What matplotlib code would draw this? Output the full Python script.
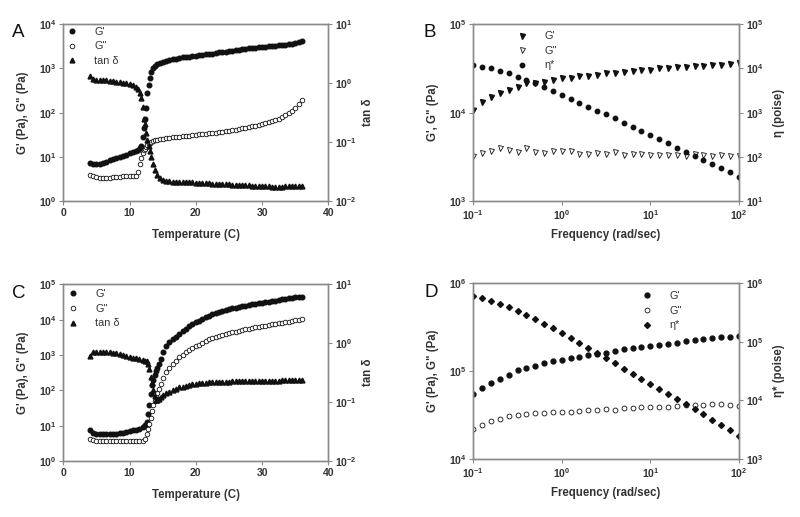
import matplotlib
matplotlib.use('Agg')
import matplotlib.pyplot as plt
from matplotlib.ticker import NullLocator

plt.rcParams['font.family'] = ['Liberation Sans', 'DejaVu Sans']
plt.rcParams['mathtext.fontset'] = 'custom'
plt.rcParams['mathtext.rm'] = 'Liberation Sans:bold'
plt.rcParams['mathtext.it'] = 'Liberation Sans:bold'

# ---- panel A : temperature sweep ----
temp_a = [4.0, 4.5, 5.0, 5.5, 6.0, 6.5, 7.0, 7.5, 8.0, 8.5, 9.0, 9.5, 10.0, 10.5,
          11.0, 11.3, 11.6, 11.8, 12.0, 12.2, 12.3, 12.5, 12.7, 12.9, 13.1, 13.3,
          13.6, 13.9, 14.2, 14.6, 15.0, 15.5, 16.0, 16.5, 17.0, 17.5, 18.0, 18.5,
          19.0, 19.5, 20.0, 20.5, 21.0, 21.5, 22.0, 22.5, 23.0, 23.5, 24.0, 24.5,
          25.0, 25.5, 26.0, 26.5, 27.0, 27.5, 28.0, 28.5, 29.0, 29.5, 30.0, 30.5,
          31.0, 31.5, 32.0, 32.5, 33.0, 33.5, 34.0, 34.5, 35.0, 35.5, 36.0]
gp_a = [7.4, 7.0, 6.8, 6.9, 7.3, 7.7, 8.3, 8.8, 9.4, 10.0, 10.6, 11.2, 12.0, 12.8,
        13.7, 14.5, 15.8, 18, 28, 45, 70, 130, 280, 420, 600, 850,
        1000, 1150, 1250, 1350, 1420, 1500, 1560, 1620, 1680, 1730, 1780, 1820,
        1860, 1900, 1940, 1990, 2030, 2080, 2130, 2180, 2240, 2300, 2370, 2420,
        2480, 2540, 2600, 2660, 2720, 2780, 2840, 2900, 2970, 3020, 3070, 3120,
        3170, 3220, 3280, 3330, 3380, 3440, 3520, 3640, 3800, 4000, 4250]
gpp_a = [3.9, 3.6, 3.5, 3.4, 3.4, 3.4, 3.4, 3.5, 3.5, 3.5, 3.6, 3.6, 3.6, 3.6,
         3.7, 4.5, 7.0, 9.5, 12, 14, 15, 16.5, 18.5, 20, 21, 22,
         23, 24, 24.5, 25, 25.5, 26, 26.5, 27.5, 28, 28.5, 29, 29.5,
         30, 31, 32, 32.5, 33, 33.5, 34, 35, 35.5, 36, 37, 38,
         39, 40, 41, 42, 44, 45, 47, 49, 51, 53, 55, 58,
         61, 64, 68, 73, 80, 88, 98, 110, 130, 155, 190]
tand_a = [1.3, 1.2, 1.15, 1.15, 1.13, 1.12, 1.1, 1.08, 1.06, 1.04, 1.02, 1.0, 0.97, 0.93,
          0.87, 0.8, 0.68, 0.55, 0.40, 0.25, 0.2, 0.14, 0.11, 0.085, 0.07, 0.055,
          0.042, 0.033, 0.028, 0.025, 0.023, 0.022, 0.0215, 0.0212, 0.021, 0.021, 0.0209, 0.0208,
          0.0207, 0.0207, 0.0206, 0.0204, 0.0202, 0.0201, 0.0199, 0.0198, 0.0197, 0.0196, 0.0195, 0.0193,
          0.0192, 0.019, 0.0189, 0.0187, 0.0186, 0.0185, 0.0184, 0.0183, 0.0182, 0.0181, 0.018, 0.0178,
          0.0177, 0.0175, 0.0175, 0.0176, 0.0176, 0.0177, 0.0178, 0.0178, 0.0179, 0.018, 0.018]

# ---- panel C : temperature sweep ----
temp_c = [4.0, 4.5, 5.0, 5.5, 6.0, 6.5, 7.0, 7.5, 8.0, 8.5, 9.0, 9.5, 10.0, 10.5,
          11.0, 11.5, 12.0, 12.3, 12.6, 12.8, 13.0, 13.2, 13.4, 13.6, 13.8, 14.0,
          14.2, 14.4, 14.7, 15.0, 15.5, 16.0, 16.5, 17.0, 17.5, 18.0, 18.5, 19.0,
          19.5, 20.0, 20.5, 21.0, 21.5, 22.0, 22.5, 23.0, 23.5, 24.0, 24.5, 25.0,
          25.5, 26.0, 26.5, 27.0, 27.5, 28.0, 28.5, 29.0, 29.5, 30.0, 30.5, 31.0,
          31.5, 32.0, 32.5, 33.0, 33.5, 34.0, 34.5, 35.0, 35.5, 36.0]
gp_c = [7.5, 6.3, 5.9, 5.8, 5.8, 5.8, 5.8, 5.9, 6.0, 6.2, 6.4, 6.7, 7.0, 7.3,
        7.7, 8.2, 9.2, 10.5, 13, 22, 38, 80, 140, 190, 270, 350,
        430, 560, 780, 1200, 1800, 2300, 2800, 3300, 4000, 4700, 5400, 6800,
        7600, 8400, 9300, 10300, 11600, 12800, 14000, 15200, 16400, 17600, 18800, 19800,
        20800, 21900, 23000, 24000, 25000, 26100, 27200, 28300, 29400, 30400, 31400, 32500,
        33600, 34600, 36500, 37800, 39000, 40000, 41200, 42500, 43800, 45000]
gpp_c = [4.1, 3.9, 3.8, 3.7, 3.7, 3.7, 3.7, 3.7, 3.7, 3.7, 3.7, 3.7, 3.7, 3.7,
         3.7, 3.7, 3.8, 4.3, 5.8, 8.0, 11.5, 17, 26, 38, 50, 68,
         85, 110, 150, 220, 320, 440, 560, 690, 860, 1020, 1200, 1400,
         1550, 1750, 1950, 2200, 2550, 2850, 3100, 3300, 3500, 3650, 3850, 4100,
         4350, 4600, 4850, 5100, 5350, 5600, 5850, 6050, 6300, 6550, 6800, 7050,
         7300, 7600, 7900, 8200, 8500, 8800, 9200, 9600, 10000, 10300]
tand_c = [0.60, 0.70, 0.71, 0.70, 0.70, 0.70, 0.70, 0.69, 0.68, 0.66, 0.64, 0.61, 0.59, 0.57,
          0.55, 0.53, 0.51, 0.50, 0.49, 0.44, 0.37, 0.27, 0.21, 0.16, 0.125, 0.11,
          0.107, 0.112, 0.12, 0.13, 0.14, 0.15, 0.16, 0.17, 0.178, 0.184, 0.19, 0.195,
          0.20, 0.205, 0.21, 0.212, 0.214, 0.216, 0.218, 0.219, 0.22, 0.221, 0.222, 0.223,
          0.224, 0.224, 0.225, 0.225, 0.226, 0.226, 0.227, 0.227, 0.228, 0.229, 0.229, 0.230,
          0.231, 0.232, 0.232, 0.233, 0.234, 0.234, 0.235, 0.236, 0.236, 0.237]

# ---- panels B and D : frequency sweeps ----
freq = [0.1, 0.126, 0.158, 0.2, 0.251, 0.316, 0.398, 0.501, 0.631, 0.794,
        1.0, 1.26, 1.58, 2.0, 2.51, 3.16, 3.98, 5.01, 6.31, 7.94,
        10.0, 12.6, 15.8, 20.0, 25.1, 31.6, 39.8, 50.1, 63.1, 79.4, 100.0]
gp_b = [10700, 13300, 14900, 16600, 18000, 19700, 21500, 21500, 22400, 23400,
        24500, 24900, 25800, 26200, 26700, 27900, 28400, 29100, 29600, 30200,
        30700, 31800, 32000, 32600, 33200, 33500, 34000, 34400, 34900, 35600, 36200]
gpp_b = [3230, 3460, 3710, 3950, 3780, 3620, 3950, 3620, 3520, 3680,
         3680, 3710, 3400, 3400, 3460, 3400, 3620, 3320, 3400, 3370,
         3320, 3320, 3320, 3320, 3260, 3370, 3290, 3230, 3290, 3260, 3260]
eta_b = [12000, 11000, 10000, 8800, 7800, 6500, 5500, 4780, 3740, 3150,
         2510, 2040, 1620, 1370, 1110, 920, 745, 593, 481, 385,
         311, 249, 202, 161, 131, 104, 85, 68, 55, 45, 35.5]
gp_d = [55000, 63800, 74000, 82000, 91200, 102000, 108600, 115400, 122700, 129400,
        135000, 141000, 146000, 151500, 156700, 162000, 171000, 177000, 182000, 188500,
        193400, 200000, 205500, 211000, 218800, 224600, 230500, 236600, 242900, 247000, 253500]
gpp_d = [21900, 24200, 27100, 28800, 30600, 31400, 32500, 33100, 33700, 34000,
         34300, 34300, 35200, 35800, 35800, 36600, 36100, 37800, 37800, 38700,
         38700, 39400, 39400, 40100, 40800, 41200, 40800, 41900, 42300, 41200, 40400]
eta_d = [614000, 553000, 499000, 443000, 394000, 340000, 288000, 243000, 204000, 170000,
         140000, 115000, 94400, 77600, 63800, 52500, 43100, 34900, 28600, 23500,
         19300, 15700, 12900, 10600, 8690, 7050, 5790, 4690, 3810, 3090, 2500]

ink = '#111111'
frame = '#8a8a8a'
txt = '#333333'


def style(ax):
    for s in ax.spines.values():
        s.set_color(frame)
        s.set_linewidth(1.0)
    ax.tick_params(which='both', direction='out', length=3, width=0.8,
                   color=frame, labelcolor=txt, labelsize=7.5, pad=2)
    for lab in ax.get_xticklabels() + ax.get_yticklabels():
        lab.set_fontweight('bold')


def setup(ax, ax2, xlabel, ylabel, y2label):
    ax.set_xlabel(xlabel, fontsize=8.3, fontweight='bold', color=txt)
    ax.set_ylabel(ylabel, fontsize=8.3, fontweight='bold', color=txt)
    ax2.set_ylabel(y2label, fontsize=8.3, fontweight='bold', color=txt, rotation=90)
    ax.xaxis.set_label_coords(0.5, -0.16)
    ax.yaxis.set_label_coords(-0.128, 0.5)
    ax2.yaxis.set_label_coords(1.128, 0.5)
    ax.yaxis.set_minor_locator(NullLocator())
    ax2.yaxis.set_minor_locator(NullLocator())
    ax.xaxis.set_minor_locator(NullLocator())
    style(ax)
    style(ax2)


def add_legend(ax2, handles, x, y):
    leg = ax2.legend(handles=handles, loc='upper left', bbox_to_anchor=(x, y),
                     frameon=False, fontsize=7.8, handlelength=1.0,
                     handletextpad=1.6, labelspacing=0.42, borderpad=0,
                     borderaxespad=0)
    for t in leg.get_texts():
        t.set_color(txt)


fig = plt.figure(figsize=(8, 5.17), dpi=100)

# A
ax = fig.add_axes([0.0791, 0.6112, 0.3313, 0.3418])
ax2 = ax.twinx()
h1, = ax.plot(temp_a, gp_a, ls='none', marker='o', ms=3.3, color=ink, label="G'")
h2, = ax.plot(temp_a, gpp_a, ls='none', marker='o', ms=3.3, mfc='white', mec=ink, mew=0.6, label='G"')
h3, = ax2.plot(temp_a, tand_a, ls='none', marker='^', ms=3.5, color=ink, label='tan δ')
ax.set_yscale('log')
ax2.set_yscale('log')
ax.set_xlim(0, 40)
ax.set_xticks([0, 10, 20, 30, 40])
ax.set_ylim(1, 1e4)
ax2.set_ylim(1e-2, 1e1)
setup(ax, ax2, 'Temperature (C)', 'G\' (Pa), G" (Pa)', 'tan δ')
add_legend(ax2, [h1, h2, h3], 0.011, 0.985)

# B
ax = fig.add_axes([0.5916, 0.6112, 0.332, 0.3418])
ax2 = ax.twinx()
h1, = ax.plot(freq, gp_b, ls='none', marker='v', ms=3.6, color=ink, label="G'")
h2, = ax.plot(freq, gpp_b, ls='none', marker='v', ms=3.6, mfc='white', mec=ink, mew=0.6, label='G"')
h3, = ax2.plot(freq, eta_b, ls='none', marker='o', ms=3.2, color=ink, label='η*')
ax.set_xscale('log')
ax.set_yscale('log')
ax2.set_yscale('log')
ax.set_xlim(0.1, 100)
ax.set_ylim(1e3, 1e5)
ax2.set_ylim(1e1, 1e5)
setup(ax, ax2, 'Frequency (rad/sec)', 'G\', G" (Pa)', 'η (poise)')
add_legend(ax2, [h1, h2, h3], 0.163, 0.96)

# C
ax = fig.add_axes([0.0791, 0.1083, 0.3313, 0.3418])
ax2 = ax.twinx()
h1, = ax.plot(temp_c, gp_c, ls='none', marker='o', ms=3.3, color=ink, label="G'")
h2, = ax.plot(temp_c, gpp_c, ls='none', marker='o', ms=3.3, mfc='white', mec=ink, mew=0.6, label='G"')
h3, = ax2.plot(temp_c, tand_c, ls='none', marker='^', ms=3.5, color=ink, label='tan δ')
ax.set_yscale('log')
ax2.set_yscale('log')
ax.set_xlim(0, 40)
ax.set_xticks([0, 10, 20, 30, 40])
ax.set_ylim(1, 1e5)
ax2.set_ylim(1e-2, 1e1)
setup(ax, ax2, 'Temperature (C)', 'G\' (Pa), G" (Pa)', 'tan δ')
add_legend(ax2, [h1, h2, h3], 0.015, 0.972)

# D
ax = fig.add_axes([0.5916, 0.1122, 0.332, 0.3398])
ax2 = ax.twinx()
h1, = ax.plot(freq, gp_d, ls='none', marker='o', ms=3.5, color=ink, label="G'")
h2, = ax.plot(freq, gpp_d, ls='none', marker='o', ms=3.5, mfc='white', mec=ink, mew=0.6, label='G"')
h3, = ax2.plot(freq, eta_d, ls='none', marker='D', ms=3.0, color=ink, label='η*')
ax.set_xscale('log')
ax.set_yscale('log')
ax2.set_yscale('log')
ax.set_xlim(0.1, 100)
ax.set_ylim(1e4, 1e6)
ax2.set_ylim(1e3, 1e6)
setup(ax, ax2, 'Frequency (rad/sec)', 'G\' (Pa), G" (Pa)', 'η* (poise)')
add_legend(ax2, [h1, h2, h3], 0.633, 0.955)

# panel letters
for letter, x, y in [('A', 0.015, 0.928), ('B', 0.529, 0.928), ('C', 0.015, 0.424), ('D', 0.531, 0.426)]:
    fig.text(x, y, letter, fontsize=13.5, color=ink)

fig.savefig('out.png', dpi=100)
